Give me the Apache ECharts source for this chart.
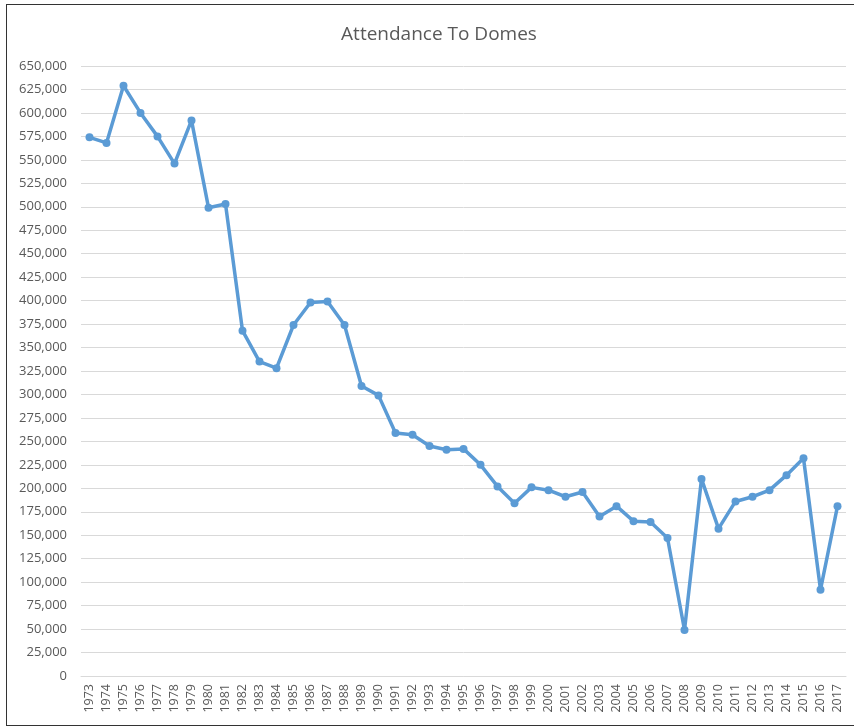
<!DOCTYPE html>
<html lang="en">
<head>
    <meta charset="UTF-8">
    <title>Attendance To Domes</title>
    <script type="text/javascript" src="https://cdn.jsdelivr.net/npm/echarts@6/dist/echarts.min.js"></script>
    <style>
        body { margin: 0; background: #fff; }
        #main { position: absolute; left: 0; top: 0; width: 854px; height: 727px; }
        #frame { position: absolute; left: 6px; top: 4px; width: 860px; height: 720px;
                 border: 1.5px solid #333; pointer-events: none; }
    </style>
</head>
<body>
<div id="main"></div>
<div id="frame"></div>
<script type="text/javascript">
    var years = ['1973','1974','1975','1976','1977','1978','1979','1980','1981','1982',
        '1983','1984','1985','1986','1987','1988','1989','1990','1991','1992',
        '1993','1994','1995','1996','1997','1998','1999','2000','2001','2002',
        '2003','2004','2005','2006','2007','2008','2009','2010','2011','2012',
        '2013','2014','2015','2016','2017'];
    var attendance = [574000, 568000, 629000, 600000, 575000, 546000, 592000, 499000, 503000, 368000,
        335000, 328000, 374000, 398000, 399000, 374000, 309000, 299000, 259000, 257000,
        245000, 241000, 242000, 225000, 202000, 184000, 201000, 198000, 191000, 196000,
        170000, 181000, 165000, 164000, 147000, 49000, 210000, 157000, 186000, 191000,
        198000, 214000, 232000, 92000, 181000];

    var myChart = echarts.init(document.getElementById('main'));

    var option = {
        animation: false,
        title: {
            text: 'Attendance To Domes',
            left: 434,
            textAlign: 'center',
            top: 20,
            textStyle: { fontFamily: 'Open Sans', fontSize: 19, fontWeight: 'normal', color: '#595959' }
        },
        grid: { left: 81, right: 8, top: 66, bottom: 51 },
        xAxis: {
            type: 'category',
            data: years,
            boundaryGap: true,
            axisLine: { lineStyle: { color: '#d9d9d9' } },
            axisTick: { show: false },
            axisLabel: { rotate: 90, margin: 8, interval: 0, color: '#595959',
                         fontFamily: 'Open Sans', fontSize: 12.5 }
        },
        yAxis: {
            type: 'value',
            min: 0,
            max: 650000,
            interval: 25000,
            axisLine: { show: false },
            axisTick: { show: false },
            splitLine: { lineStyle: { color: '#d9d9d9', width: 1 } },
            axisLabel: {
                margin: 14, color: '#595959', fontFamily: 'Open Sans', fontSize: 13,
                formatter: function (v) { return v.toLocaleString('en-US'); }
            }
        },
        series: [{
            type: 'line',
            data: attendance,
            symbol: 'circle',
            symbolSize: 8,
            lineStyle: { color: '#5b9bd5', width: 3.5 },
            itemStyle: { color: '#5b9bd5' }
        }]
    };
    myChart.setOption(option);
</script>
</body>
</html>
